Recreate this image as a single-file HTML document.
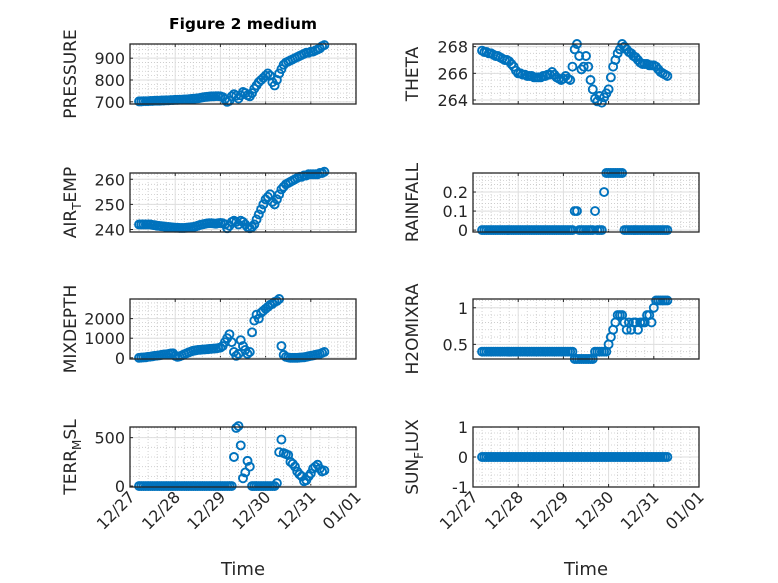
<!DOCTYPE html>
<html><head><meta charset="utf-8">
<style>
html,body{margin:0;padding:0;background:#fff;}
svg{display:block;font-family:"DejaVu Sans","Liberation Sans",sans-serif;}
</style></head>
<body>
<svg id="fig" width="778" height="583" viewBox="0 0 778 583">
<rect x="0" y="0" width="778" height="583" fill="#fff"/>
<text x="243" y="29" text-anchor="middle" font-size="15.5" font-weight="bold" fill="#000">Figure 2 medium</text>
</svg>
<script>
// ---- data (time in days since 12/27 00:00) ----
const xTickLabels = ["12/27","12/28","12/29","12/30","12/31","01/01"];
const times = [];
for (let i = 0; i < 83; i++) times.push(+(0.2 + i * 0.05).toFixed(2));

const pressure = [702,702,703,703,703,704,704,705,705,705,706,706,707,707,708,708,709,
709,710,710,711,711,712,713,714,715,716,718,720,722,723,724,725,725,726,726,725,
722,712,700,705,725,735,728,715,730,745,
740,730,725,740,760,775,790,800,810,820,
830,820,790,775,800,830,850,870,880,885,
890,895,900,905,910,915,920,925,925,930,
930,935,940,945,955,960];
const airTemp = [242,242,242,242,242,242,241.8,241.7,241.5,241.4,241.3,241.2,241,241,240.9,240.8,240.7,
240.7,240.6,240.6,240.6,240.7,240.8,240.9,241,241.2,241.5,241.8,242,242.2,242.4,242.5,242.5,242.4,242.3,242.5,242.6,
242.5,242,240.5,241.5,243,243.5,243,242,243.5,243,
242,241,240.5,241,242,244,246,248,250,252,
253,254,251,250,252,254,256,257,258,258.5,
259,259.5,260,260.5,261,261,261.5,261.5,262,262,
262,262,262,262.5,262.5,263];
const mixDepth = [0,10,20,30,50,60,80,100,110,130,150,170,180,200,220,230,100,
50,80,120,180,230,280,320,360,380,400,410,420,430,440,450,460,470,480,500,520,
600,800,1000,1200,800,300,100,200,900,600,
400,200,300,1300,1900,2200,2000,2300,2400,2500,
2600,2700,2750,2850,2900,3000,600,150,50,20,
0,0,0,0,10,20,30,50,80,100,
120,150,180,200,250,300];
const terrMsl = [0,0,0,0,0,0,0,0,0,0,0,0,0,0,0,0,0,0,0,0,0,0,0,0,0,0,0,0,0,0,0,0,0,0,0,0,0,0,0,0,0,0,
300,600,620,420,80,140,260,200,
0,0,0,0,0,0,0,0,0,0,0,
30,350,480,340,330,320,250,230,200,150,120,100,50,60,100,130,180,200,220,180,150,160];
const theta = [267.7,267.6,267.6,267.5,267.5,267.4,267.3,267.3,267.2,267.1,267,267,266.9,266.7,266.5,266.2,266,
266,265.9,265.9,265.8,265.8,265.8,265.7,265.7,265.7,265.7,265.8,265.8,265.9,265.9,266.1,265.9,265.7,265.6,265.5,265.6,
265.8,265.6,265.5,266.5,267.8,268.2,267.3,266.3,266.5,267.3,
266.5,265.5,264.8,264.1,263.9,264.3,263.8,264.2,264.5,264.8,
265.7,266.5,267,267.5,267.8,268.2,268,267.8,267.6,267.5,
267.3,267.2,267,266.8,266.7,266.7,266.7,266.6,266.6,266.6,
266.5,266.3,266.1,266,265.9,265.8];
const rainfall = [0,0,0,0,0,0,0,0,0,0,0,0,0,0,0,0,0,0,0,0,0,0,0,0,0,0,0,0,0,0,0,0,0,0,0,0,0,0,0,0,0,
0.1,0.1,0,0,0,0,0,0,0,0.1,0,0,0,0.2,0.3,0.3,0.3,0.3,0.3,0.3,0.3,0.3,
0,0,0,0,0,0,0,0,0,0,0,0,0,0,0,0,0,0,0,0];
const h2oMix = [0.4,0.4,0.4,0.4,0.4,0.4,0.4,0.4,0.4,0.4,0.4,0.4,0.4,0.4,0.4,0.4,0.4,0.4,0.4,0.4,
0.4,0.4,0.4,0.4,0.4,0.4,0.4,0.4,0.4,0.4,0.4,0.4,0.4,0.4,0.4,0.4,0.4,0.4,0.4,0.4,0.4,
0.3,0.3,0.3,0.3,0.3,0.3,0.3,0.3,0.3,
0.4,0.4,0.4,0.4,0.4,0.4,
0.5,0.6,0.7,0.8,0.9,0.9,0.9,0.8,0.7,0.8,0.7,0.8,0.8,0.7,0.8,0.8,0.8,0.9,0.9,0.8,1.0,1.1,1.1,1.1,1.1,1.1,1.1];
const sunFlux = times.map(() => 0);

const pressureTicks = [700,800,900];
const airTempTicks = [240,250,260];
const mixDepthTicks = [0,1000,2000];
const terrTicks = [0,500];
const thetaTicks = [264,266,268];
const rainTicks = [0,0.1,0.2];
const h2oTicks = [0.5,1];
const sunTicks = [-1,0,1];

// ---- layout ----
const NS = "http://www.w3.org/2000/svg";
const svg = document.getElementById("fig");
function mk(tag, attrs, parent) {
  const e = document.createElementNS(NS, tag);
  for (const k in attrs) e.setAttribute(k, attrs[k]);
  (parent || svg).appendChild(e);
  return e;
}
const cols = [{l:130, r:356, lx:76}, {l:473, r:699, lx:418}];
const rows = [{t:44, b:104}, {t:173, b:232}, {t:299, b:359}, {t:427, b:487}];
const panels = [
  {name:"pressure", col:0, row:0, data:pressure, ylim:[690,965], ticks:pressureTicks, minor:20, label:["PRESSURE"]},
  {name:"air-temp", col:0, row:1, data:airTemp, ylim:[239,262.5], ticks:airTempTicks, minor:2, label:["AIR","T","EMP"]},
  {name:"mixdepth", col:0, row:2, data:mixDepth, ylim:[-60,3000], ticks:mixDepthTicks, minor:200, label:["MIXDEPTH"]},
  {name:"terr-msl", col:0, row:3, data:terrMsl, ylim:[-10,610], ticks:terrTicks, minor:100, label:["TERR","M","SL"]},
  {name:"theta", col:1, row:0, data:theta, ylim:[263.7,268.2], ticks:thetaTicks, minor:0.5, label:["THETA"]},
  {name:"rainfall", col:1, row:1, data:rainfall, ylim:[-0.01,0.3], ticks:rainTicks, minor:0.02, label:["RAINFALL"]},
  {name:"h2omixra", col:1, row:2, data:h2oMix, ylim:[0.3,1.12], ticks:h2oTicks, minor:0.1, label:["H2OMIXRA"]},
  {name:"sun-flux", col:1, row:3, data:sunFlux, ylim:[-1,1], ticks:sunTicks, minor:0.2, label:["SUN","F","LUX"]}
];

panels.forEach(p => {
  const c = cols[p.col], r = rows[p.row];
  const xs = d => c.l + (d / 5) * (c.r - c.l);
  const ys = v => r.b - (v - p.ylim[0]) / (p.ylim[1] - p.ylim[0]) * (r.b - r.t);
  const g = mk("g", {});
  
  
  for (let d = 0.2; d < 5; d += 0.2) {
    if (Math.abs(d - Math.round(d)) < 1e-6) continue;
    const e = mk("line", {x1:xs(d), x2:xs(d), y1:r.t, y2:r.b, stroke:"#c8c8c8", "stroke-width":0.8, "stroke-dasharray":"1,2"}, g);
    
    
  }
  const y0 = Math.ceil(p.ylim[0] / p.minor) * p.minor;
  for (let v = y0; v <= p.ylim[1] + 1e-9; v += p.minor) {
    const e = mk("line", {x1:c.l, x2:c.r, y1:ys(v), y2:ys(v), stroke:"#c8c8c8", "stroke-width":0.8, "stroke-dasharray":"1,2"}, g);
    
    
  }
  for (let d = 1; d < 5; d++) {
    const e = mk("line", {x1:xs(d), x2:xs(d), y1:r.t, y2:r.b, stroke:"#dedede", "stroke-width":1}, g);
    
    
    const t1 = mk("line", {x1:xs(d), x2:xs(d), y1:r.b, y2:r.b - 3, stroke:"#262626"}, g);
    
    
    const t2 = mk("line", {x1:xs(d), x2:xs(d), y1:r.t, y2:r.t + 3, stroke:"#262626"}, g);
    
    
  }
  p.ticks.forEach(v => {
    const e = mk("line", {x1:c.l, x2:c.r, y1:ys(v), y2:ys(v), stroke:"#dedede", "stroke-width":1}, g);
    
    
    const tk = mk("line", {x1:c.l, x2:c.l + 3, y1:ys(v), y2:ys(v), stroke:"#262626"}, g);
    
    
    const tx = mk("text", {x:c.l - 5, y:ys(v) + 6, "text-anchor":"end", "font-size":16, fill:"#262626"}, g);
    tx.textContent = String(v);
    
    
  });
  p.data.forEach((v, i) => {
    const m = mk("circle", {cx:xs(times[i]).toFixed(2), cy:ys(v).toFixed(2), r:4, fill:"none", stroke:"#0072BD", "stroke-width":1.9}, g);
    
    
  });
  const box = mk("rect", {x:c.l, y:r.t, width:c.r - c.l, height:r.b - r.t, fill:"none", stroke:"#262626", "stroke-width":1.3}, g);
  
  
  const cy = (r.t + r.b) / 2;
  const lab = mk("text", {x:0, y:0, "text-anchor":"middle", "font-size":17, fill:"#262626", transform:`translate(${c.lx},${cy}) rotate(-90)`}, g);
  
  
  if (p.label.length === 1) {
    lab.textContent = p.label[0];
  } else {
    const a = mk("tspan", {}, lab); a.textContent = p.label[0];
    const b = mk("tspan", {dy:5, "font-size":12}, lab); b.textContent = p.label[1];
    const d = mk("tspan", {dy:-5}, lab); d.textContent = p.label[2];
  }
  if (p.row === 3) {
    xTickLabels.forEach((s, i) => {
      const t = mk("text", {x:0, y:0, "text-anchor":"end", "font-size":16, fill:"#262626", transform:`translate(${xs(i) + 6},${r.b + 11}) rotate(-45)`}, g);
      t.textContent = s;
      
      
    });
    const xt = mk("text", {x:(c.l + c.r) / 2, y:575, "text-anchor":"middle", "font-size":18, fill:"#262626"}, g);
    xt.textContent = "Time";
    
    
  }
});
</script>
</body></html>
